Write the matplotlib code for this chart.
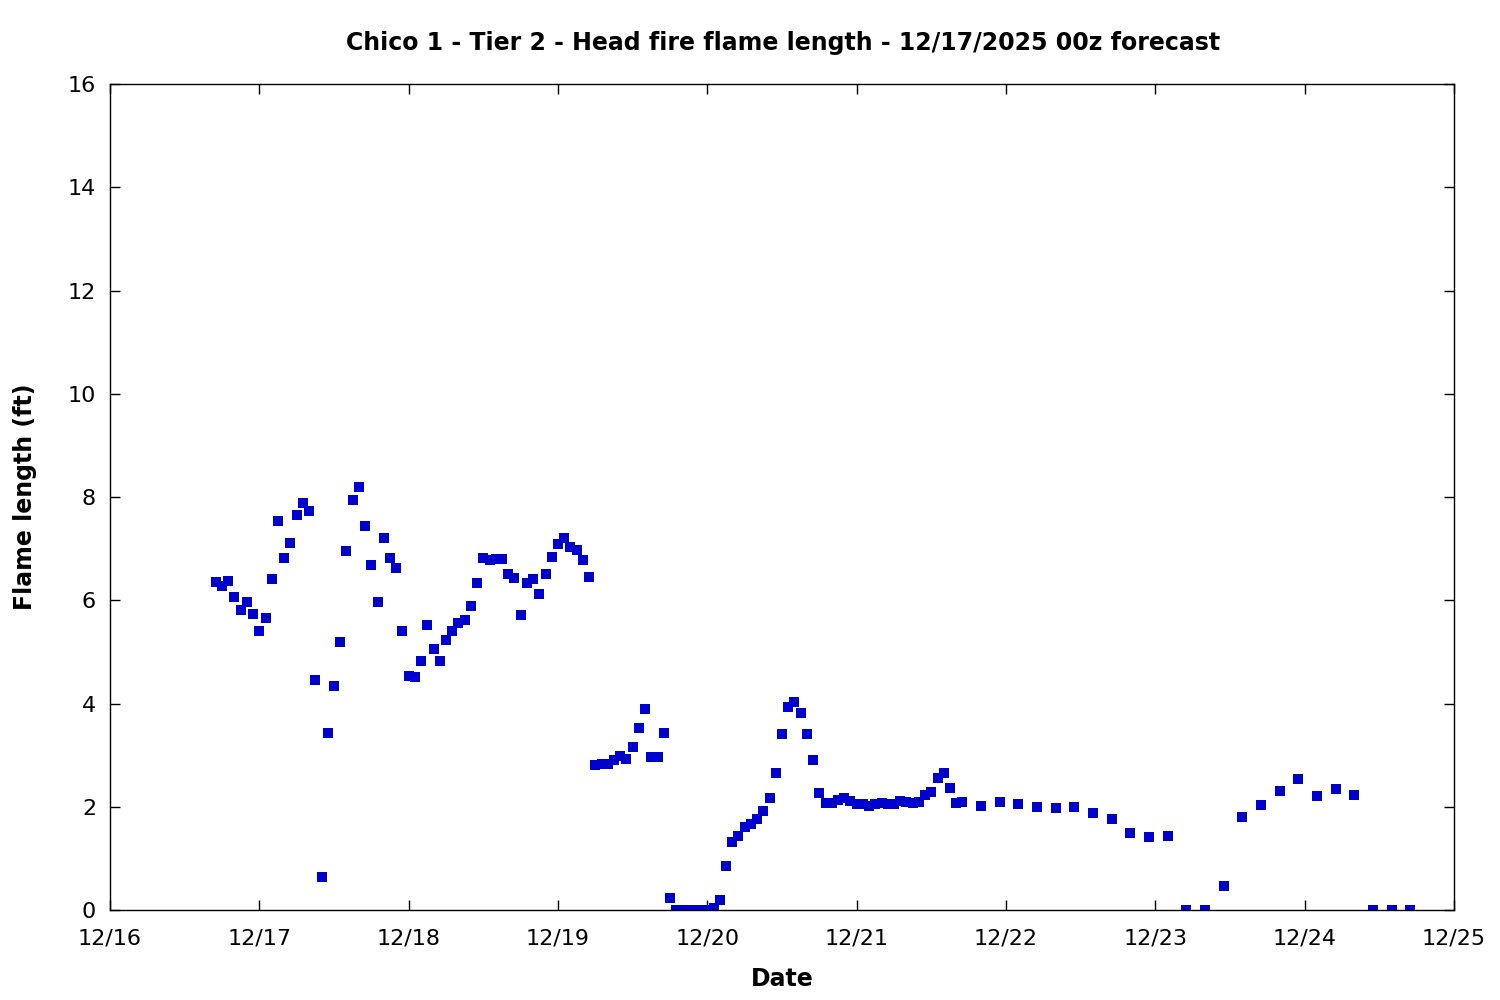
import matplotlib
matplotlib.use("Agg")
import matplotlib.pyplot as plt
import matplotlib.dates as mdates
import numpy as np
import pandas as pd

# hourly forecast 12/16 17z .. 12/21 17z
hourly_start = "2025-12-16 17:00"
hourly_flame = [
    6.35, 6.27, 6.37, 6.06, 5.82, 5.96, 5.73, 5.40, 5.65, 6.42, 7.53, 6.81, 7.10, 7.66, 7.88, 7.72,
    4.45, 0.63, 3.42, 4.33, 5.19, 6.95, 7.94, 8.19, 7.43, 6.69, 5.96, 7.20, 6.81, 6.62, 5.40,
    4.53, 4.51, 4.82, 5.53, 5.05, 4.82, 5.23, 5.40, 5.55, 5.61, 5.89, 6.33, 6.81, 6.77, 6.79,
    6.79, 6.50, 6.44, 5.71, 6.33, 6.42, 6.13, 6.50, 6.84, 7.09, 7.20, 7.03, 6.97, 6.77, 6.46,
    2.80, 2.82, 2.82, 2.90, 2.99, 2.92, 3.15, 3.52, 3.89, 2.96, 2.96, 3.42,
    0.23, 0.0, 0.0, 0.0, 0.0, 0.0, 0.0, 0.03,
    0.19, 0.86, 1.31, 1.43, 1.60, 1.66, 1.76, 1.91, 2.16, 2.65, 3.40, 3.94, 4.02, 3.81, 3.40, 2.90, 2.26,
    2.08, 2.08, 2.14, 2.16, 2.12, 2.06, 2.05, 2.01, 2.05, 2.08, 2.05, 2.06, 2.12, 2.10, 2.08, 2.10,
    2.22, 2.28, 2.56, 2.65, 2.36, 2.08, 2.10,
]

# 3-hourly forecast 12/21 20z .. 12/24 17z
three_hourly_start = "2025-12-21 20:00"
three_hourly_flame = [
    2.01, 2.10, 2.06, 1.99, 1.97, 1.99, 1.87, 1.76, 1.49, 1.41, 1.43, 0.0,
    0.0, 0.46, 1.81, 2.03, 2.30, 2.53, 2.20, 2.34, 2.22, 0.0, 0.0, 0.0,
]

times = pd.date_range(hourly_start, periods=len(hourly_flame), freq="h").append(
    pd.date_range(three_hourly_start, periods=len(three_hourly_flame), freq="3h")
)
flame = np.array(hourly_flame + three_hourly_flame)

plt.rcParams["font.family"] = "DejaVu Sans"

fig = plt.figure(figsize=(15, 10), dpi=100)
ax = fig.add_axes([0.0733, 0.09, 0.896, 0.826])
ax.plot(times, flame, "s", color="#0000cc", markersize=6.5, markeredgewidth=0)

ax.set_xlim(pd.Timestamp("2025-12-16"), pd.Timestamp("2025-12-25"))
ax.set_ylim(0, 16)
ax.set_yticks(np.arange(0, 17, 2))
ax.xaxis.set_major_locator(mdates.DayLocator())
ax.xaxis.set_major_formatter(mdates.DateFormatter("%m/%d"))
ax.tick_params(direction="in", length=7, width=1, labelsize=16, top=True, right=True)
ax.tick_params(axis="x", pad=13)
ax.tick_params(axis="y", pad=10)
for s in ax.spines.values():
    s.set_linewidth(1)

ax.set_xlabel("Date", fontsize=17, fontweight="bold", labelpad=14)
ax.set_ylabel("Flame length (ft)", fontsize=17, fontweight="bold", labelpad=22)
fig.text(0.522, 0.957, "Chico 1 - Tier 2 - Head fire flame length - 12/17/2025 00z forecast",
         fontsize=17, fontweight="bold", ha="center", va="center")

fig.savefig("out.png", dpi=100)
